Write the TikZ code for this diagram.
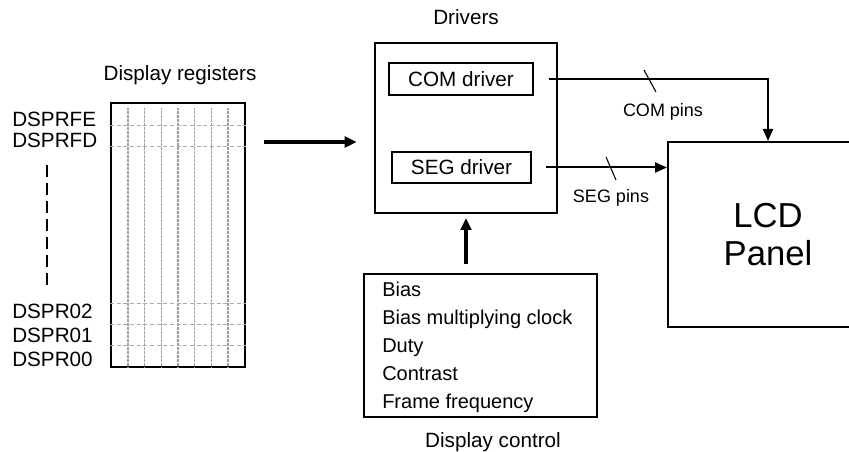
\documentclass[tikz,border=0pt]{standalone}
\usepackage{fontspec}
\setmainfont{Liberation Sans}
\usetikzlibrary{arrows.meta}

\tikzset{
	box/.style={draw,line width=1.5pt,inner sep=0pt},
	lbl/.style={font=\fontsize{15.5}{18}\selectfont,inner sep=0pt},
	reglbl/.style={lbl,anchor=west},
	pinlbl/.style={font=\fontsize{13.5}{16}\selectfont,inner sep=0pt},
	sig/.style={line width=1.5pt,-{Triangle[length=9pt,width=7.5pt]}},
	bus/.style={line width=2.3pt,-{Triangle[length=9pt,width=8pt]}},
	tick/.style={line width=0.8pt}
}

\begin{document}
\begin{tikzpicture}[x=0.75pt,y=-0.75pt]
	\useasboundingbox (0,0) rectangle (849,452);

	% display registers
	\node[box,minimum width=100.5pt,minimum height=198pt] (regs) at (178,235) {};
	\foreach \i in {0,...,6}
		\draw[gray!75,line width=0.9pt,dash pattern=on 0.5pt off 0.5pt] (128+16.67*\i,108) -- (128+16.67*\i,367);
	\foreach \y in {125,146.7,303,324,345.7}
		\draw[gray!65,line width=0.7pt,dash pattern=on 3pt off 2pt] (regs.west |- 0,\y) -- (regs.east |- 0,\y);
	\node[lbl] (regtitle) at (180,75) {Display registers};
	\node[reglbl] (rfe) at (12,119) {DSPRFE};
	\node[reglbl] (rfd) at (12,140) {DSPRFD};
	\node[reglbl] (r02) at (12,311) {DSPR02};
	\node[reglbl] (r01) at (12,335) {DSPR01};
	\node[reglbl] (r00) at (12,359) {DSPR00};
	\draw[line width=1.6pt,dash pattern=on 9pt off 4.5pt] (47,165) -- (47,287);

	% drivers
	\node[box,minimum width=136.5pt,minimum height=127.5pt] (drv) at (466,128) {};
	\node[lbl] (drvtitle) at (466,17) {Drivers};
	\node[box,lbl,draw,line width=1.5pt,minimum width=108pt,minimum height=24pt] (com) at (461,79) {COM driver};
	\node[box,lbl,draw,line width=1.5pt,minimum width=104.25pt,minimum height=23.25pt] (seg) at (461.5,167.5) {SEG driver};

	% display control
	\node[box,minimum width=174.75pt,minimum height=107.25pt] (ctrl) at (480.5,345.5) {};
	\node[anchor=west,inner sep=0pt,align=left,font=\fontsize{15}{21}\selectfont] (ctrltxt) at (382,347.5)
		{Bias\\Bias multiplying clock\\Duty\\Contrast\\Frame frequency};
	\node[lbl] (ctrltitle) at (493,442) {Display control};

	% LCD panel
	\node[box,minimum width=150pt,minimum height=138.75pt,align=center,
		font=\fontsize{26}{28.5}\selectfont] (lcd) at (768,234.5) {LCD\\Panel};

	% connections
	\coordinate (busin) at (264,142);
	\draw[bus,shorten >=13pt] (busin) -- (busin -| drv.west);
	\draw[bus,shorten <=7pt,shorten >=3pt] (drv.south |- ctrl.north) -- (drv.south);
	\draw[sig,shorten <=11pt] (com.east) -- (com.east -| lcd.north) -- (lcd.north);
	\draw[sig,shorten <=10.5pt] (seg.east) -- (seg.east -| lcd.west);

	% pin ticks
	\draw[tick] (644,70) -- (656,92);
	\draw[tick] (606,157) -- (616,180);
	\node[pinlbl] (compins) at (663,112) {COM pins};
	\node[pinlbl] (segpins) at (611,198) {SEG pins};
\end{tikzpicture}
\end{document}
